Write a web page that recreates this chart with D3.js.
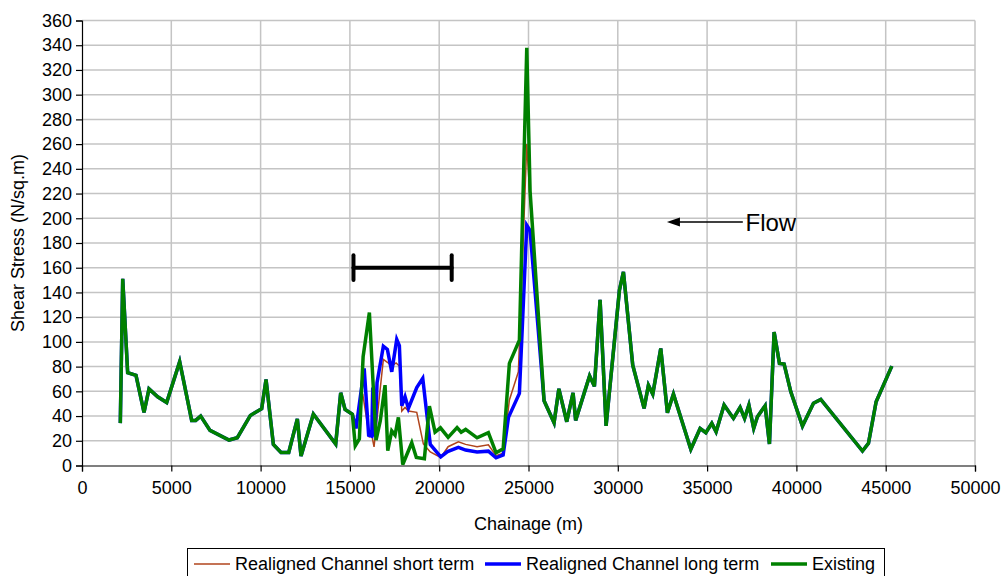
<!DOCTYPE html>
<html>
<head>
<meta charset="utf-8">
<script src="https://cdn.jsdelivr.net/npm/d3@7"></script>
<style>
  body { margin: 0; background: #fff; }
  svg text { font-family: "Liberation Sans", Arial, sans-serif; fill: #000; }
</style>
</head>
<body>
<div id="chart"></div>
<script>
// Existing channel (green)
var chainage = [2145, 2280, 2557, 3024, 3472, 3752, 4237, 4741, 5469, 6141, 6365, 6645, 7168, 8232, 8697,
  9427, 10061, 10304, 10715, 11144, 11575, 12057, 12264, 12955, 14205, 14485, 14728, 15139, 15300, 15530,
  15740, 16091, 16464, 16700, 16968, 17120, 17343, 17528, 17715, 17959, 18463, 18720, 19170, 19451, 19768,
  20070, 20500, 21000, 21230, 21480, 22120, 22753, 23184, 23580, 23930, 24490, 24903, 25088, 25872, 26432,
  26700, 27142, 27495, 27640, 28420, 28691, 29008, 29344, 30091, 30315, 30837, 31472, 31714, 31958, 32405,
  32778, 33115, 34088, 34608, 34928, 35264, 35504, 35952, 36475, 36848, 37100, 37340, 37610, 37817, 38248,
  38491, 38752, 39051, 39312, 39687, 40339, 40955, 41367, 43699, 44035, 44464, 45343];
var existing = [34.3, 151, 75, 73, 43, 62, 55.6, 51, 84, 36.5, 36.5, 40, 28.4, 20.6, 22.5,
  40.5, 46, 69.6, 17, 10.6, 10.6, 37.6, 7.7, 41.6, 17.4, 58.8, 45.4, 41.4, 16, 21.5,
  88, 123.8, 20.6, 36, 65, 12, 28, 24.6, 39, 0.8, 18.4, 6.5, 5.5, 48, 27,
  30.5, 22.8, 30.7, 27, 29.2, 22.4, 26.6, 10.3, 13.5, 82.6, 101.4, 338, 222, 52.4, 34.6,
  62, 35.4, 58.8, 36.5, 72.5, 64, 134, 32, 141.8, 156.6, 81.2, 46.2, 65, 57.8, 94.7,
  42.7, 57.8, 13.1, 30, 26.5, 34.1, 27.3, 48.9, 38.1, 47, 38.1, 48.9, 30, 39.4, 48.3,
  17.4, 108, 82.6, 82, 59.6, 31.9, 50.3, 53.5, 11.7, 17.9, 51.6, 80.4];

// Realigned reach (same as existing outside 15139 - 25872)
var longChainage = [15139, 15344, 15800, 16050, 16223, 16279, 16408, 16520, 16873, 17098, 17343, 17623, 17770,
  17904, 18088, 18275, 18743, 19079, 19500, 20087, 20470, 21073, 21480, 22120, 22753, 23184, 23580, 23880,
  24490, 24903, 25088, 25872];
var longTerm = [41.4, 30, 78.5, 24.6, 23.8, 63, 23.3, 67, 96.5, 93.9, 75.8, 102, 97,
  48.3, 55.6, 46.2, 63, 70.5, 17, 7, 11.2, 14.7, 12.5, 11, 11.6, 6.2, 8.5, 39,
  58.3, 194.3, 190, 52.4];
var shortChainage = [15139, 15300, 15717, 16091, 16223, 16352, 16873, 17098, 17343, 17584, 17770, 17904, 18088,
  18275, 18743, 19113, 19500, 20087, 20500, 21073, 21480, 22120, 22753, 23184, 23580, 23930, 24434, 24903,
  25088, 25872];
var shortTerm = [41.4, 31, 58, 23.3, 24.6, 15, 85.8, 83.5, 80.4, 83, 80.5, 44, 47,
  44, 43, 17.5, 11, 6.5, 15.2, 19.2, 17.1, 15.2, 16.8, 8, 10, 53, 75.8, 260,
  215, 52.4];

var xTicks = d3.range(0, 50001, 5000);
var yTicks = d3.range(0, 361, 20);
var seriesNames = ["Realigned Channel short term", "Realigned Channel long term", "Existing"];
var seriesColors = ["#b0441c", "#0000ff", "#008000"];
var seriesWidths = [1.5, 3.5, 3.5];

var w = 1005, h = 576;
var margin = {left: 82, right: 30, top: 20.5, bottom: 110.5};

var svg = d3.select("#chart").append("svg").attr("width", w).attr("height", h);

var x = d3.scaleLinear().domain([0, 50000]).range([margin.left, w - margin.right]);
var y = d3.scaleLinear().domain([0, 360]).range([h - margin.bottom, margin.top]);

// build full series
function pts(cx, cy) { return cx.map(function(c, i) { return [c, cy[i]]; }); }
var exPts = pts(chainage, existing);
function withReach(cx, cy) {
  var a = cx[0], b = cx[cx.length - 1];
  return exPts.filter(function(p) { return p[0] < a; })
    .concat(pts(cx, cy))
    .concat(exPts.filter(function(p) { return p[0] > b; }));
}
var series = [withReach(shortChainage, shortTerm), withReach(longChainage, longTerm), exPts];

// grid
svg.append("g").selectAll("line.gy").data(yTicks.slice(1)).enter().append("line")
  .attr("x1", x(0)).attr("x2", x(50000)).attr("y1", d => y(d)).attr("y2", d => y(d))
  .attr("stroke", "#c4c4c4").attr("stroke-width", 1.5);
svg.append("g").selectAll("line.gx").data(xTicks.slice(1)).enter().append("line")
  .attr("y1", y(0)).attr("y2", y(360)).attr("x1", d => x(d)).attr("x2", d => x(d))
  .attr("stroke", "#c4c4c4").attr("stroke-width", 1.5);

// axes
var xaxis = d3.axisBottom(x).tickValues(xTicks).tickSize(6).tickPadding(10).tickFormat(d3.format("d"));
var yaxis = d3.axisLeft(y).tickValues(yTicks).tickSize(6).tickPadding(4);
var gx = svg.append("g").attr("transform", "translate(0," + y(0) + ")").call(xaxis);
var gy = svg.append("g").attr("transform", "translate(" + x(0) + ",0)").call(yaxis);
[gx, gy].forEach(function(g) {
  g.select(".domain").attr("stroke", "#000").attr("stroke-width", 1.2);
  g.selectAll(".tick line").attr("stroke", "#000").attr("stroke-width", 1.2);
  g.selectAll(".tick text").style("font-family", "Liberation Sans, Arial, sans-serif").style("font-size", "18px").attr("fill", "#000");
});

// lines
var line = d3.line().x(d => x(d[0])).y(d => y(d[1]));
svg.append("g").selectAll("path").data(series).enter().append("path")
  .attr("d", line).attr("fill", "none")
  .attr("stroke", (d, i) => seriesColors[i]).attr("stroke-width", (d, i) => seriesWidths[i])
  .attr("stroke-linejoin", "miter");

// bracket annotation
var bracket = [15200, 20700], bracketLevel = 160;
var bg = svg.append("g").attr("stroke", "#000").attr("stroke-width", 4).attr("stroke-linecap", "round");
bg.append("line").attr("x1", x(bracket[0])).attr("x2", x(bracket[1])).attr("y1", y(bracketLevel)).attr("y2", y(bracketLevel));
bracket.forEach(function(b) {
  bg.append("line").attr("x1", x(b)).attr("x2", x(b)).attr("y1", y(bracketLevel + 10)).attr("y2", y(bracketLevel - 10));
});

// flow arrow
var arrowY = 197, arrowTip = 32750, arrowTail = 37000;
var ay = y(arrowY), ax = x(arrowTip);
svg.append("line").attr("x1", ax + 10).attr("x2", x(arrowTail)).attr("y1", ay).attr("y2", ay)
  .attr("stroke", "#000").attr("stroke-width", 1.3);
svg.append("path").attr("d", "M" + ax + "," + ay + "L" + (ax + 13) + "," + (ay - 4.5) + "L" + (ax + 13) + "," + (ay + 4.5) + "Z")
  .attr("fill", "#000");
svg.append("text").attr("x", x(37150)).attr("y", ay + 9).text("Flow").style("font-size", "24px");

// axis titles
svg.append("text").attr("x", (x(0) + x(50000)) / 2).attr("y", 530).attr("text-anchor", "middle")
  .text("Chainage (m)").style("font-size", "18px");
svg.append("text").attr("transform", "translate(24," + ((y(0) + y(360)) / 2) + ") rotate(-90)")
  .attr("text-anchor", "middle").text("Shear Stress (N/sq.m)").style("font-size", "18px");

// legend
var lg = svg.append("g");
lg.append("rect").attr("x", 187.5).attr("y", 548.5).attr("width", 697).attr("height", 34)
  .attr("fill", "#fff").attr("stroke", "#000").attr("stroke-width", 1);
var legX = [194, 485, 771];
seriesNames.forEach(function(n, i) {
  lg.append("line").attr("x1", legX[i]).attr("x2", legX[i] + 36).attr("y1", 564).attr("y2", 564)
    .attr("stroke", seriesColors[i]).attr("stroke-width", seriesWidths[i]);
  lg.append("text").attr("x", legX[i] + 41).attr("y", 570).text(n).style("font-size", "18px");
});
</script>
</body>
</html>
